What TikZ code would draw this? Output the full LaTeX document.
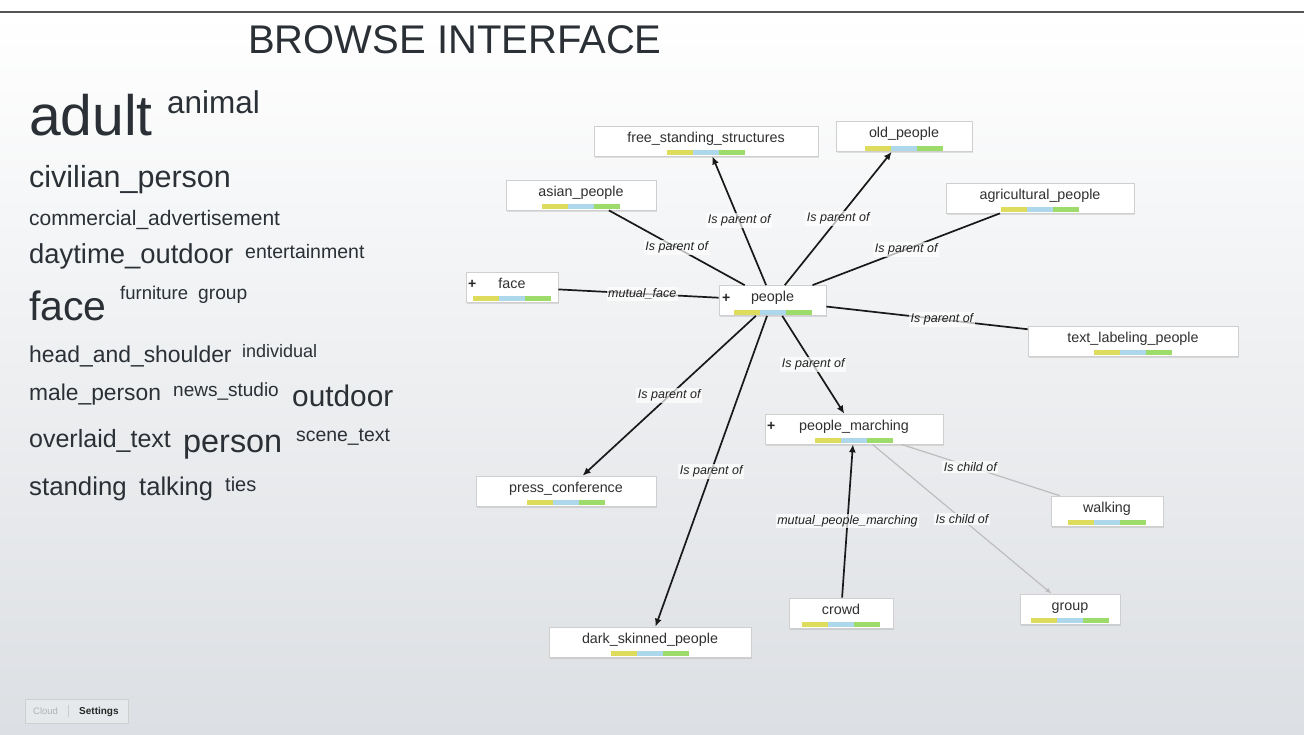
\documentclass[tikz,border=0pt]{standalone}
\usepackage{fontspec}
\setmainfont{Liberation Sans}
\usetikzlibrary{arrows.meta,shadows,calc}
\definecolor{ink}{HTML}{2A3035}
\definecolor{nodeink}{HTML}{303030}
\definecolor{labink}{HTML}{222222}
\definecolor{bgbot}{HTML}{DCDFE3}
\definecolor{topline}{HTML}{555555}
\definecolor{boxborder}{HTML}{CFCFCF}
\definecolor{barY}{HTML}{DEDC5C}
\definecolor{barB}{HTML}{ADD8EC}
\definecolor{barG}{HTML}{9DDB6B}
\definecolor{softedge}{HTML}{BDBDBD}
\begin{document}
\begin{tikzpicture}[x=1pt,y=-1pt,
  cw/.style={anchor=base west, inner sep=0pt, text=ink, font=\fontsize{#1}{#1}\selectfont},
  concept/.style={draw=boxborder, fill=white, line width=0.7pt, minimum height=30pt,
    inner xsep=0pt, inner ysep=3pt, text height=13pt, text depth=11pt, text=nodeink,
    font=\fontsize{14.3}{14.3}\selectfont,
    drop shadow={shadow xshift=1pt, shadow yshift=-1.5pt, opacity=0.22},
    path picture={
      \fill[barY] ($(path picture bounding box.south)+(-39pt,1pt)$) rectangle ++(26pt,5pt);
      \fill[barB] ($(path picture bounding box.south)+(-13pt,1pt)$) rectangle ++(26pt,5pt);
      \fill[barG] ($(path picture bounding box.south)+(13pt,1pt)$) rectangle ++(26pt,5pt);
    }},
  plus/.style={anchor=base, inner sep=0pt, text=black!85, font=\bfseries\fontsize{14}{14}\selectfont},
  edgeline/.style={line width=1.7pt, draw=black!90},
  arr/.style={-{Latex[length=8pt,width=7pt]}},
  softline/.style={line width=1.2pt, draw=softedge},
  softarr/.style={-{Latex[length=6pt,width=5pt]}},
  lab/.style={font=\itshape\fontsize{12.5}{13}\selectfont, text=labink, fill=white,
    fill opacity=0.7, text opacity=1, inner sep=1.5pt}
]
\useasboundingbox (0,0) rectangle (1304,734);
\fill[white] (0,0) rectangle (1304,734);
\shade[top color=white, bottom color=bgbot] (0,12) rectangle (1304,734);
\draw[line width=1.5pt, draw=topline] (0,12) -- (1304,12);

% title
\node[anchor=base west, inner sep=0pt, text=ink, font=\fontsize{40}{40}\selectfont] (title) at (248,53) {BROWSE INTERFACE};

% word cloud
\node[cw=57] (w1) at (29,135) {adult};
\node[cw=31.5] (w2) at (167,113) {animal};
\node[cw=30.5] (w3) at (29,187) {civilian\_person};
\node[cw=21] (w4) at (29,225) {commercial\_advertisement};
\node[cw=27.4] (w5) at (29,263) {daytime\_outdoor};
\node[cw=19.5] (w6) at (245,258) {entertainment};
\node[cw=41] (w7) at (29,320) {face};
\node[cw=18.5] (w8) at (120,299) {furniture};
\node[cw=19.2] (w9) at (198,299) {group};
\node[cw=22.9] (w10) at (29,362) {head\_and\_shoulder};
\node[cw=18] (w11) at (242,357) {individual};
\node[cw=22.8] (w12) at (29,400) {male\_person};
\node[cw=19] (w13) at (173,396) {news\_studio};
\node[cw=29.8] (w14) at (292,406) {outdoor};
\node[cw=25] (w15) at (29,447) {overlaid\_text};
\node[cw=32.4] (w16) at (183,452) {person};
\node[cw=19.4] (w17) at (296,441) {scene\_text};
\node[cw=25.8] (w18) at (29,495) {standing};
\node[cw=25.6] (w19) at (139,495) {talking};
\node[cw=20] (w20) at (225,491) {ties};

% concept nodes
\node[concept, minimum width=224pt] (fss) at (706,141) {free\_standing\_structures};
\node[concept, minimum width=136pt] (old) at (904,136.5) {old\_people};
\node[concept, minimum width=150pt] (asian) at (581,195) {asian\_people};
\node[concept, minimum width=188pt] (agri) at (1040,198) {agricultural\_people};
\node[concept, minimum width=92pt] (face) at (512,287) {face};
\node[concept, minimum width=107pt] (people) at (772.5,300.5) {people};
\node[concept, minimum width=210pt] (tlp) at (1133,341) {text\_labeling\_people};
\node[concept, minimum width=178pt] (pm) at (854,429) {people\_marching};
\node[concept, minimum width=180pt] (press) at (566,491) {press\_conference};
\node[concept, minimum width=112pt] (walk) at (1107,511) {walking};
\node[concept, minimum width=104pt] (crowd) at (841,613) {crowd};
\node[concept, minimum width=100pt] (group) at (1070,609) {group};
\node[concept, minimum width=202pt] (dark) at (650,642) {dark\_skinned\_people};

\node[plus] (faceplus) at ([xshift=6.5pt,yshift=-17pt]face.north west) {+};
\node[plus] (peopleplus) at ([xshift=7.5pt,yshift=-17pt]people.north west) {+};
\node[plus] (pmplus) at ([xshift=6.5pt,yshift=-17pt]pm.north west) {+};

% connectors
\draw[edgeline, arr] (people) -- (fss);
\draw[edgeline, arr] (people) -- (old);
\draw[edgeline] (people) -- (asian);
\draw[edgeline] (people) -- (agri);
\draw[edgeline] (face) -- (people);
\draw[edgeline] (people) -- (tlp);
\draw[edgeline, arr] (people) -- (pm);
\draw[edgeline, arr] (people) -- (press);
\draw[edgeline, arr] (people) -- (dark);
\draw[edgeline, arr] (crowd) -- (pm);
\draw[softline] (pm) -- (walk);
\draw[softline, softarr] (pm) -- (group);

% connector labels
\node[lab] (l1) at ($(people)!0.5!(fss)$) {Is parent of};
\node[lab] (l2) at ($(people)!0.5!(old)$) {Is parent of};
\node[lab] (l3) at ($(people)!0.5!(asian)$) {Is parent of};
\node[lab] (l4) at ($(people)!0.5!(agri)$) {Is parent of};
\node[lab] (l5) at ($(face)!0.5!(people)$) {mutual\_face};
\node[lab] (l6) at ($(people)!0.47!(tlp)$) {Is parent of};
\node[lab] (l7) at ($(people)!0.5!(pm)$) {Is parent of};
\node[lab] (l8) at ($(people)!0.5!(press)$) {Is parent of};
\node[lab] (l9) at ($(people)!0.5!(dark)$) {Is parent of};
\node[lab] (l10) at ($(crowd)!0.5!(pm)$) {mutual\_people\_marching};
\node[lab] (l11) at ($(pm)!0.46!(walk)$) {Is child of};
\node[lab] (l12) at ($(pm)!0.5!(group)$) {Is child of};

% bottom buttons
\node[draw=boxborder, fill=bgbot!70!white, line width=0.6pt, minimum width=103pt, minimum height=24pt, inner sep=0pt] (btn) at (76.5,711) {};
\node[anchor=base west, inner sep=0pt, text=black!30, font=\fontsize{9.5}{9.5}\selectfont] (cloud) at (33,714.5) {Cloud};
\draw[draw=black!20, line width=0.6pt] ([xshift=44pt,yshift=-6pt]btn.north west) -- ([xshift=44pt,yshift=6pt]btn.south west);
\node[anchor=base west, inner sep=0pt, text=black!85, font=\bfseries\fontsize{10}{10}\selectfont] (settings) at (79,714.5) {Settings};
\end{tikzpicture}
\end{document}
